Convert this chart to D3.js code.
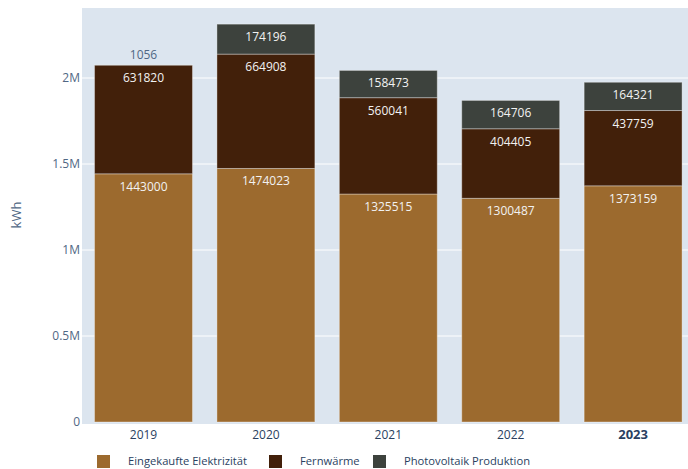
<!DOCTYPE html>
<html>
<head>
<meta charset="utf-8">
<script src="https://cdn.jsdelivr.net/npm/d3@7"></script>
<style>
  html, body { margin: 0; padding: 0; background: #fff; }
  svg { display: block; font-family: "Open Sans", "Noto Sans", sans-serif; }
</style>
</head>
<body>
<svg id="chart" width="688" height="469"></svg>
<script>
// Energy consumption per year, stacked by source (kWh)
const years = ["2019", "2020", "2021", "2022", "2023"];
const seriesNames = ["Eingekaufte Elektrizität", "Fernwärme", "Photovoltaik Produktion"];
const elektrizitaet = [1443000, 1474023, 1325515, 1300487, 1373159];
const fernwaerme = [631820, 664908, 560041, 404405, 437759];
const photovoltaik = [1056, 174196, 158473, 164706, 164321];
const yTicks = [0, 500000, 1000000, 1500000, 2000000];
const yTickLabels = ["0", "0.5M", "1M", "1.5M", "2M"];
const colors = ["#9c6a2e", "#42200a", "#3d423d"];

const rows = years.map((y, i) => ({
  year: y,
  "Eingekaufte Elektrizität": elektrizitaet[i],
  "Fernwärme": fernwaerme[i],
  "Photovoltaik Produktion": photovoltaik[i]
}));

const svg = d3.select("#chart");
const plot = { left: 82, top: 8, right: 688, bottom: 422 };

const x = d3.scaleBand()
  .domain(years)
  .range([82.3, 694.3])
  .paddingInner(0.2)
  .paddingOuter(0.1);

const y = d3.scaleLinear()
  .domain([0, 2407000])
  .range([plot.bottom, plot.top]);

// plot background
svg.append("rect")
  .attr("x", plot.left).attr("y", plot.top)
  .attr("width", plot.right - plot.left)
  .attr("height", plot.bottom - plot.top + 2)
  .attr("fill", "#dce5ef");

// horizontal grid lines
svg.append("g").selectAll("line")
  .data(yTicks.slice(1))
  .join("line")
  .attr("x1", plot.left - 3).attr("x2", plot.right)
  .attr("y1", d => y(d)).attr("y2", d => y(d))
  .attr("stroke", "#ffffff").attr("stroke-width", 1);

// y tick labels
svg.append("g").selectAll("text")
  .data(yTicks)
  .join("text")
  .attr("x", 80)
  .attr("y", d => y(d))
  .attr("dy", "0.35em")
  .attr("text-anchor", "end")
  .attr("font-size", 12)
  .attr("fill", "#506784")
  .text((d, i) => yTickLabels[i]);

// y axis title
svg.append("text")
  .attr("transform", `translate(21,${(plot.top + plot.bottom) / 2}) rotate(-90)`)
  .attr("text-anchor", "middle")
  .attr("font-size", 13)
  .attr("fill", "#506784")
  .text("kWh");

// x tick labels
svg.append("g").selectAll("text")
  .data(years)
  .join("text")
  .attr("x", d => x(d) + x.bandwidth() / 2)
  .attr("y", 439)
  .attr("text-anchor", "middle")
  .attr("font-size", d => d === "2023" ? 13 : 12)
  .attr("font-weight", d => d === "2023" ? "bold" : "normal")
  .attr("fill", "#2a3f5f")
  .text(d => d);

const stacked = d3.stack().keys(seriesNames)(rows);

const layers = svg.append("g").selectAll("g")
  .data(stacked)
  .join("g")
  .attr("fill", (d, i) => colors[i]);

layers.selectAll("rect")
  .data(d => d)
  .join("rect")
  .attr("x", d => x(d.data.year))
  .attr("y", d => y(d[1]))
  .attr("width", x.bandwidth())
  .attr("height", d => y(d[0]) - y(d[1]))
  .attr("stroke", "rgba(255,255,255,0.35)")
  .attr("stroke-width", 1);

// value labels: inside the segment top, or above it when the segment is too thin
layers.each(function (layer) {
  d3.select(this).selectAll("text")
    .data(layer.map(d => ({ d, key: layer.key })))
    .join("text")
    .attr("x", o => x(o.d.data.year) + x.bandwidth() / 2)
    .attr("y", o => {
      const h = y(o.d[0]) - y(o.d[1]);
      return h < 18 ? y(o.d[1]) - 6 : y(o.d[1]) + 17;
    })
    .attr("text-anchor", "middle")
    .attr("font-size", 12)
    .attr("fill", o => (y(o.d[0]) - y(o.d[1]) < 18) ? "#506784" : "#f2f2f2")
    .text(o => o.d.data[o.key]);
});

// legend
const legendX = [97, 269, 373];
const legend = svg.append("g").selectAll("g")
  .data(seriesNames)
  .join("g")
  .attr("transform", (d, i) => `translate(${legendX[i]},455)`);
legend.append("rect")
  .attr("width", 13).attr("height", 13)
  .attr("fill", (d, i) => colors[i]);
legend.append("text")
  .attr("x", 31).attr("y", 6.5)
  .attr("dy", "0.35em")
  .attr("font-size", 11.2)
  .attr("fill", "#2a3f5f")
  .text(d => d);
</script>
</body>
</html>
